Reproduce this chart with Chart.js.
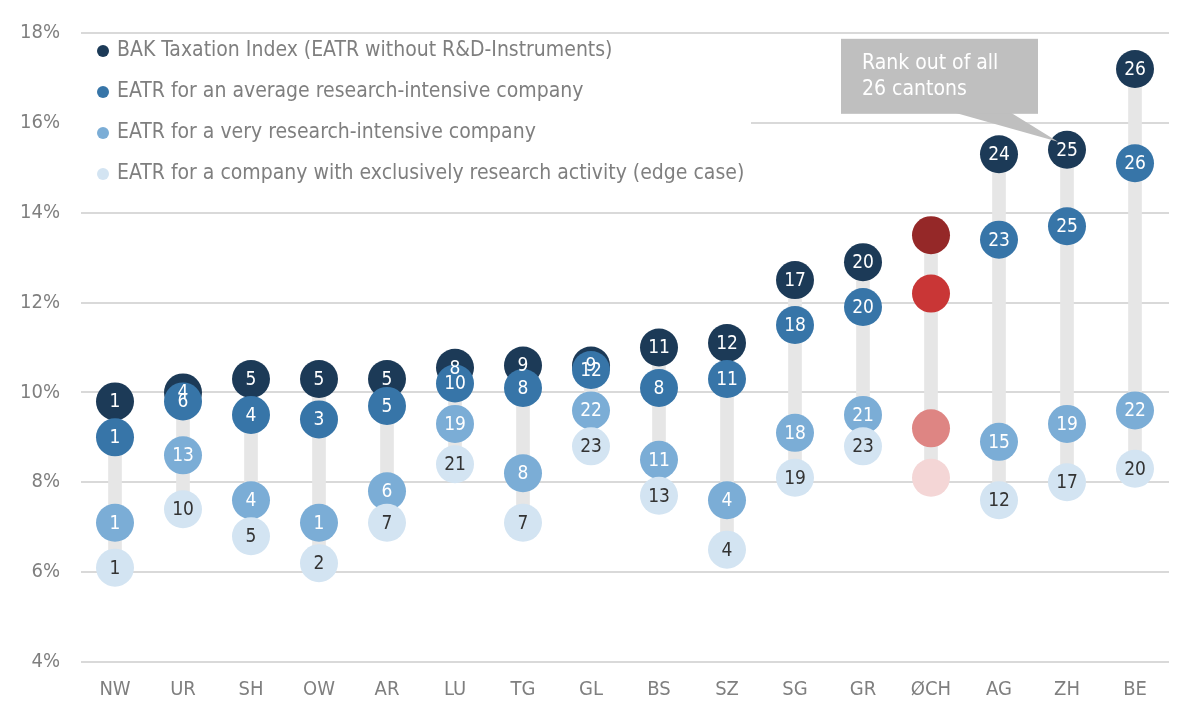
<!DOCTYPE html>
<html>
<head>
<meta charset="utf-8">
<script src="https://cdn.jsdelivr.net/npm/chart.js@4"></script>
<style>
html,body{margin:0;padding:0;background:#fff;}
#wrap{width:1200px;height:721px;position:relative;}
</style>
</head>
<body>
<div id="wrap"><canvas id="c" width="1200" height="721"></canvas></div>
<script>
const categories = ['NW','UR','SH','OW','AR','LU','TG','GL','BS','SZ','SG','GR','ØCH','AG','ZH','BE'];
const highlightCategory = 'ØCH';

const seriesNames = [
  'BAK Taxation Index (EATR without R&D-Instruments)',
  'EATR for an average research-intensive company',
  'EATR for a very research-intensive company',
  'EATR for a company with exclusively research activity (edge case)'
];

const bakIndex     = [9.8, 10.0, 10.3, 10.3, 10.3, 10.55, 10.6, 10.6, 11.0, 11.1, 12.5, 12.9, 13.5, 15.3, 15.4, 17.2];
const avgResearch  = [9.0, 9.8, 9.5, 9.4, 9.7, 10.2, 10.1, 10.5, 10.1, 10.3, 11.5, 11.9, 12.2, 13.4, 13.7, 15.1];
const veryResearch = [7.1, 8.6, 7.6, 7.1, 7.8, 9.3, 8.2, 9.6, 8.5, 7.6, 9.1, 9.5, 9.2, 8.9, 9.3, 9.6];
const exclResearch = [6.1, 7.4, 6.8, 6.2, 7.1, 8.4, 7.1, 8.8, 7.7, 6.5, 8.1, 8.8, 8.1, 7.6, 8.0, 8.3];

const bakRank   = [1, 4, 5, 5, 5, 8, 9, 9, 11, 12, 17, 20, null, 24, 25, 26];
const avgRank   = [1, 6, 4, 3, 5, 10, 8, 12, 8, 11, 18, 20, null, 23, 25, 26];
const veryRank  = [1, 13, 4, 1, 6, 19, 8, 22, 11, 4, 18, 21, null, 15, 19, 22];
const exclRank  = [1, 10, 5, 2, 7, 21, 7, 23, 13, 4, 19, 23, null, 12, 17, 20];

const yTicks = [4, 6, 8, 10, 12, 14, 16, 18];
const annotationText = ['Rank out of all', '26 cantons'];
const annotationCategory = 'ZH';

const blueColors = ['#1c3a57', '#3775a8', '#7badd6', '#d3e4f2'];
const redColors  = ['#952828', '#c93636', '#de8583', '#f4d6d6'];
const labelColors = ['#ffffff', '#ffffff', '#ffffff', '#333333'];

const FONT = '"Liberation Sans Narrow", "DejaVu Sans Condensed", "Roboto Condensed", Roboto, sans-serif';

const seriesValues = [bakIndex, avgResearch, veryResearch, exclResearch];
const seriesRanks = [bakRank, avgRank, veryRank, exclRank];

const rangeData = categories.map((c, i) => {
  const vals = seriesValues.map(s => s[i]);
  return [Math.min(...vals), Math.max(...vals)];
});

const pointDatasets = seriesValues.map((vals, k) => ({
  type: 'line',
  label: seriesNames[k],
  data: vals,
  showLine: false,
  pointRadius: 19,
  pointHoverRadius: 19,
  pointBorderWidth: 0,
  pointBackgroundColor: categories.map(c => c === highlightCategory ? redColors[k] : blueColors[k]),
  backgroundColor: blueColors[k],
  borderColor: 'rgba(0,0,0,0)',
  order: 4 - k,
  ranks: seriesRanks[k],
  labelColor: labelColors[k]
}));

const rangeDataset = {
  type: 'bar',
  label: 'range',
  data: rangeData,
  backgroundColor: '#e6e6e6',
  borderWidth: 0,
  barThickness: 13,
  order: 10
};

const legendPlugin = {
  id: 'insideLegend',
  beforeDatasetsDraw(chart) {
    const ctx = chart.ctx;
    const a = chart.chartArea;
    ctx.save();
    ctx.fillStyle = '#ffffff';
    ctx.fillRect(a.left, a.top + 6, 670, 162);
    ctx.font = '21px ' + FONT;
    ctx.textBaseline = 'middle';
    ctx.textAlign = 'left';
    seriesNames.forEach((name, k) => {
      const y = a.top + 18 + k * 41;
      ctx.fillStyle = blueColors[k];
      ctx.beginPath();
      ctx.arc(a.left + 22, y, 6, 0, Math.PI * 2);
      ctx.fill();
      ctx.fillStyle = '#7f7f7f';
      ctx.fillText(name, a.left + 36, y);
    });
    ctx.restore();
  }
};

const labelPlugin = {
  id: 'rankLabels',
  afterDatasetsDraw(chart) {
    const ctx = chart.ctx;
    ctx.save();
    ctx.font = '19px ' + FONT;
    ctx.textAlign = 'center';
    ctx.textBaseline = 'middle';
    chart.data.datasets.forEach((ds, di) => {
      if (!ds.ranks) return;
      const meta = chart.getDatasetMeta(di);
      meta.data.forEach((pt, i) => {
        const r = ds.ranks[i];
        if (r === null || r === undefined) return;
        ctx.fillStyle = ds.labelColor;
        ctx.fillText(String(r), pt.x, pt.y + 1);
      });
    });
    // annotation callout
    const idx = categories.indexOf(annotationCategory);
    const meta0 = chart.getDatasetMeta(chart.data.datasets.findIndex(d => d.label === seriesNames[0]));
    const tip = meta0.data[idx];
    const tx = tip.x - 9, ty = tip.y - 8;
    const bx = tx - 217, by = ty - 103, bw = 197, bh = 75;
    ctx.fillStyle = '#bfbfbf';
    ctx.beginPath();
    ctx.moveTo(bx + 114, by + bh - 1);
    ctx.lineTo(bx + 170, by + bh - 1);
    ctx.lineTo(tx, ty);
    ctx.closePath();
    ctx.fill();
    ctx.fillRect(bx, by, bw, bh);
    ctx.fillStyle = '#ffffff';
    ctx.font = '21px ' + FONT;
    ctx.textAlign = 'left';
    ctx.fillText(annotationText[0], bx + 21, by + 25);
    ctx.fillText(annotationText[1], bx + 21, by + 51);
    ctx.restore();
  }
};

new Chart(document.getElementById('c'), {
  data: {
    labels: categories,
    datasets: [...pointDatasets, rangeDataset]
  },
  options: {
    responsive: false,
    animation: false,
    layout: { padding: { left: 0, right: 31, top: 22, bottom: 0 } },
    plugins: {
      legend: { display: false },
      tooltip: { enabled: false }
    },
    scales: {
      x: {
        grid: { display: false, drawTicks: false },
        border: { display: false },
        offset: true,
        ticks: { color: '#7f7f7f', font: { family: FONT, size: 20 }, padding: 16 },
        afterFit(s) { s.height = 59; }
      },
      y: {
        min: 4, max: 18,
        afterBuildTicks(s) { s.ticks = yTicks.map(v => ({ value: v })); },
        grid: { color: '#d9d9d9', lineWidth: 2, drawTicks: false },
        border: { display: false },
        ticks: { color: '#7f7f7f', font: { family: FONT, size: 20 }, padding: 21, callback: v => v + '%' },
        afterFit(s) { s.width = 81; }
      }
    }
  },
  plugins: [legendPlugin, labelPlugin]
});
</script>
</body>
</html>
